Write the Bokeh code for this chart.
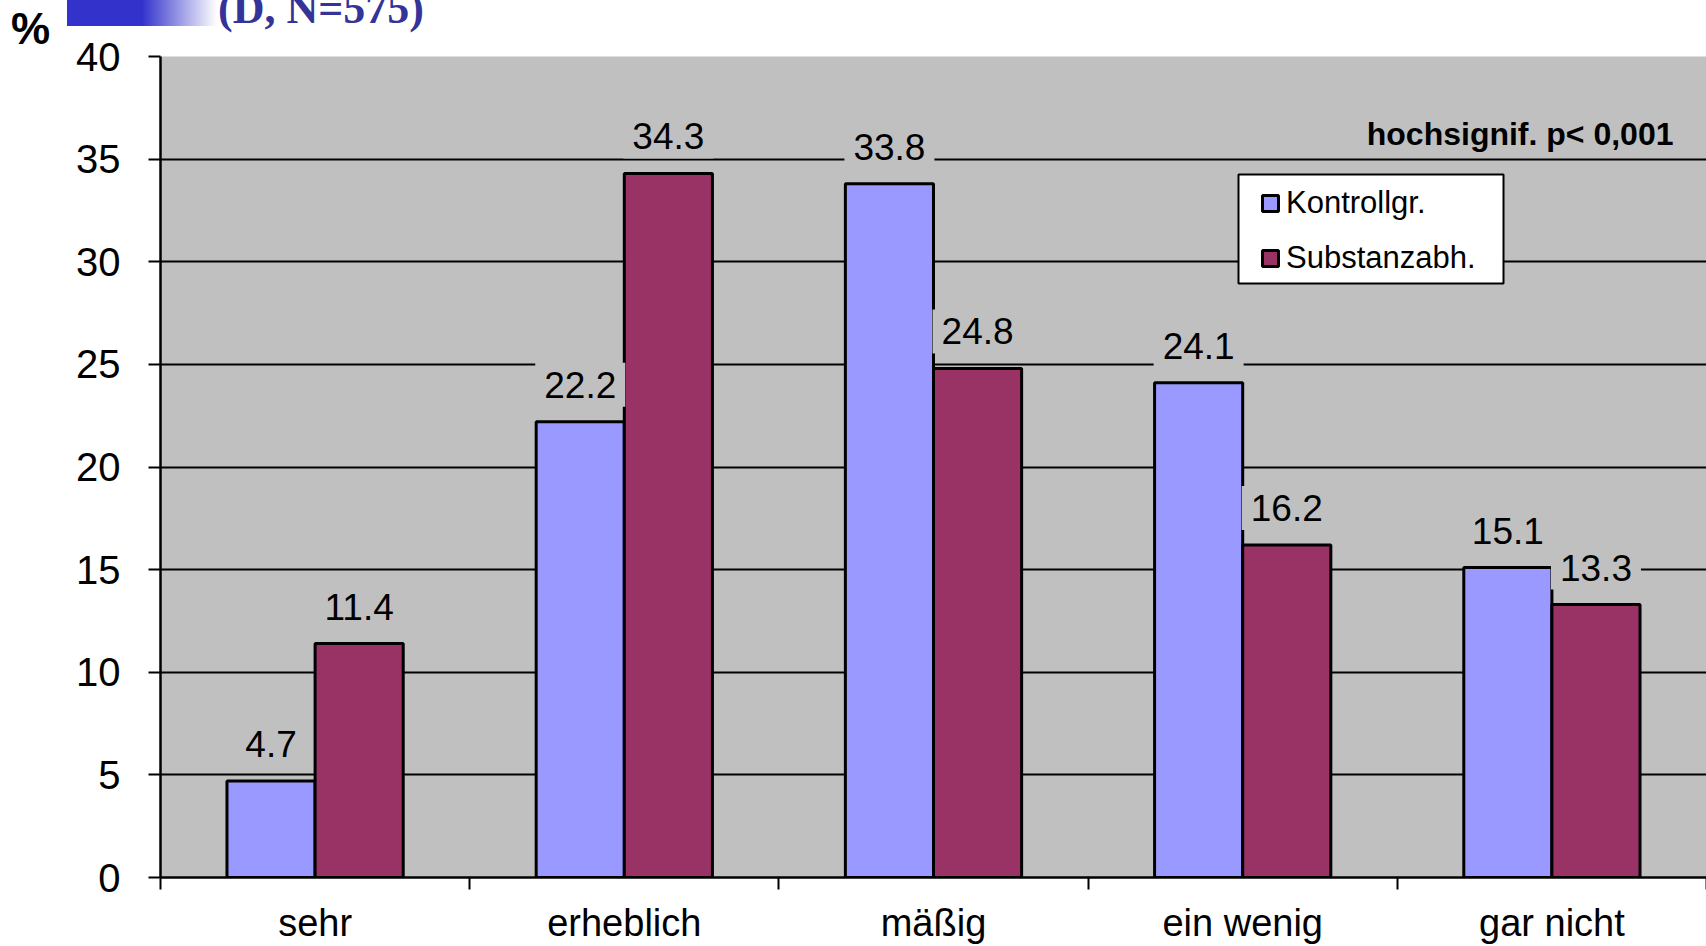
from bokeh.plotting import figure
from bokeh.layouts import column
from bokeh.models import (ColumnDataSource, Range1d, FixedTicker, Label, Legend,
                          LegendItem, BoxAnnotation, Div)
from bokeh.embed import file_html
from bokeh.resources import INLINE

# --- data -------------------------------------------------------------
categories = ["sehr", "erheblich", "mäßig", "ein wenig", "gar nicht"]
kontroll = [4.7, 22.2, 33.8, 24.1, 15.1]
substanz = [11.4, 34.3, 24.8, 16.2, 13.3]
series_names = ["Kontrollgr.", "Substanzabh."]
y_ticks = [0, 5, 10, 15, 20, 25, 30, 35, 40]
note_text = "hochsignif. p< 0,001"
header_text = "(D, N=575)"
unit_text = "%"

# --- styling ----------------------------------------------------------
BLUE = "#9999ff"
PLUM = "#993366"
PLOT_BG = "#c0c0c0"
FONT = "Liberation Sans"
BAR_W = 0.285
W = 1706
HEAD_H = 30

# --- header strip: unit sign, fading bar, subtitle --------------------
head_html = f"""
<div style="position:relative;width:{W}px;height:{HEAD_H}px;overflow:visible;margin:0;padding:0;">
  <div style="position:absolute;left:67px;top:0px;width:150px;height:26px;
              background:linear-gradient(to right, #3333cc 0%, #3333cc 50%, #ffffff 100%);"></div>
  <span style="position:absolute;left:218px;top:-13px;white-space:nowrap;
               font-family:'Liberation Serif';font-weight:bold;font-size:44px;line-height:44px;
               color:#333399;">{header_text}</span>
  <span style="position:absolute;left:11px;top:7px;white-space:nowrap;
               font-family:'{FONT}';font-weight:bold;font-size:44px;line-height:44px;
               color:black;">{unit_text}</span>
</div>
"""
head = Div(text=head_html, width=W, height=HEAD_H, margin=0,
           styles={"overflow": "visible", "padding": "0", "margin": "0"})

# --- main chart -------------------------------------------------------
n = len(categories)
centers = [i + 0.5 for i in range(n)]

src_k = ColumnDataSource(dict(x=[c - BAR_W / 2 for c in centers], top=kontroll))
src_s = ColumnDataSource(dict(x=[c + BAR_W / 2 for c in centers], top=substanz))

p = figure(width=W, height=946 - HEAD_H, output_backend="svg", toolbar_location=None,
           x_range=Range1d(0, n), y_range=Range1d(y_ticks[0], y_ticks[-1]),
           min_border_left=160, min_border_right=0, min_border_top=56 - HEAD_H,
           min_border_bottom=69, margin=0)
p.background_fill_color = PLOT_BG
p.border_fill_alpha = 0
p.outline_line_color = None

# grid
p.xgrid.visible = False
p.ygrid.grid_line_color = "black"
p.ygrid.grid_line_width = 2
p.ygrid.ticker = FixedTicker(ticks=y_ticks)

# y axis
yax = p.yaxis[0]
yax.ticker = FixedTicker(ticks=y_ticks)
yax.axis_line_width = 2.5
yax.major_tick_out = 12
yax.major_tick_in = 0
yax.major_tick_line_width = 2
yax.minor_tick_line_color = None
yax.major_label_standoff = 28
yax.major_label_text_font = FONT
yax.major_label_text_font_size = "40px"
yax.major_label_text_color = "black"

# x axis: category names at the centres, tick marks on the boundaries
xax = p.xaxis[0]
xax.ticker = FixedTicker(ticks=centers, minor_ticks=list(range(n + 1)))
xax.major_label_overrides = {c: name for c, name in zip(centers, categories)}
xax.axis_line_width = 2.5
xax.major_tick_line_color = None
xax.major_tick_out = 0
xax.major_tick_in = 0
xax.minor_tick_line_color = "black"
xax.minor_tick_line_width = 2
xax.minor_tick_out = 12
xax.minor_tick_in = 0
xax.major_label_standoff = 12
xax.major_label_text_font = FONT
xax.major_label_text_font_size = "38px"
xax.major_label_text_color = "black"

# bars
r_k = p.vbar(x="x", top="top", width=BAR_W, source=src_k, fill_color=BLUE,
             line_color="black", line_width=3)
r_s = p.vbar(x="x", top="top", width=BAR_W, source=src_s, fill_color=PLUM,
             line_color="black", line_width=3)

# value labels above each bar
for xs, vals in ((src_k.data["x"], kontroll), (src_s.data["x"], substanz)):
    for x, v in zip(xs, vals):
        p.add_layout(Label(x=x, y=v, text=f"{v:.1f}", text_align="center",
                           text_baseline="middle", y_offset=37,
                           text_font=FONT, text_font_size="37px",
                           text_color="black", background_fill_color=PLOT_BG,
                           padding=9))

# significance note
p.add_layout(Label(x=1513, y=744, x_units="screen", y_units="screen",
                   text=note_text, text_align="right", text_baseline="middle",
                   text_font=FONT, text_font_size="32px", text_font_style="bold",
                   text_color="black"))

# legend frame, then the legend itself on top of it
p.add_layout(BoxAnnotation(left=1238, right=1503, top=174 - HEAD_H, bottom=283 - HEAD_H,
                           left_units="canvas", right_units="canvas",
                           top_units="canvas", bottom_units="canvas",
                           fill_color="white", fill_alpha=1,
                           line_color="black", line_width=2, line_alpha=1))
legend = Legend(items=[LegendItem(label=series_names[0], renderers=[r_k]),
                       LegendItem(label=series_names[1], renderers=[r_s])],
                location=(1100, 601), orientation="vertical")
legend.label_text_font = FONT
legend.label_text_font_size = "31px"
legend.label_text_color = "black"
legend.glyph_width = 20
legend.glyph_height = 20
legend.label_standoff = 6
legend.padding = 10
legend.spacing = 19
legend.margin = 0
legend.border_line_color = None
legend.background_fill_alpha = 0
p.add_layout(legend, "center")

layout = column(head, p, spacing=0)
open("out.html", "w").write(file_html(layout, INLINE))
